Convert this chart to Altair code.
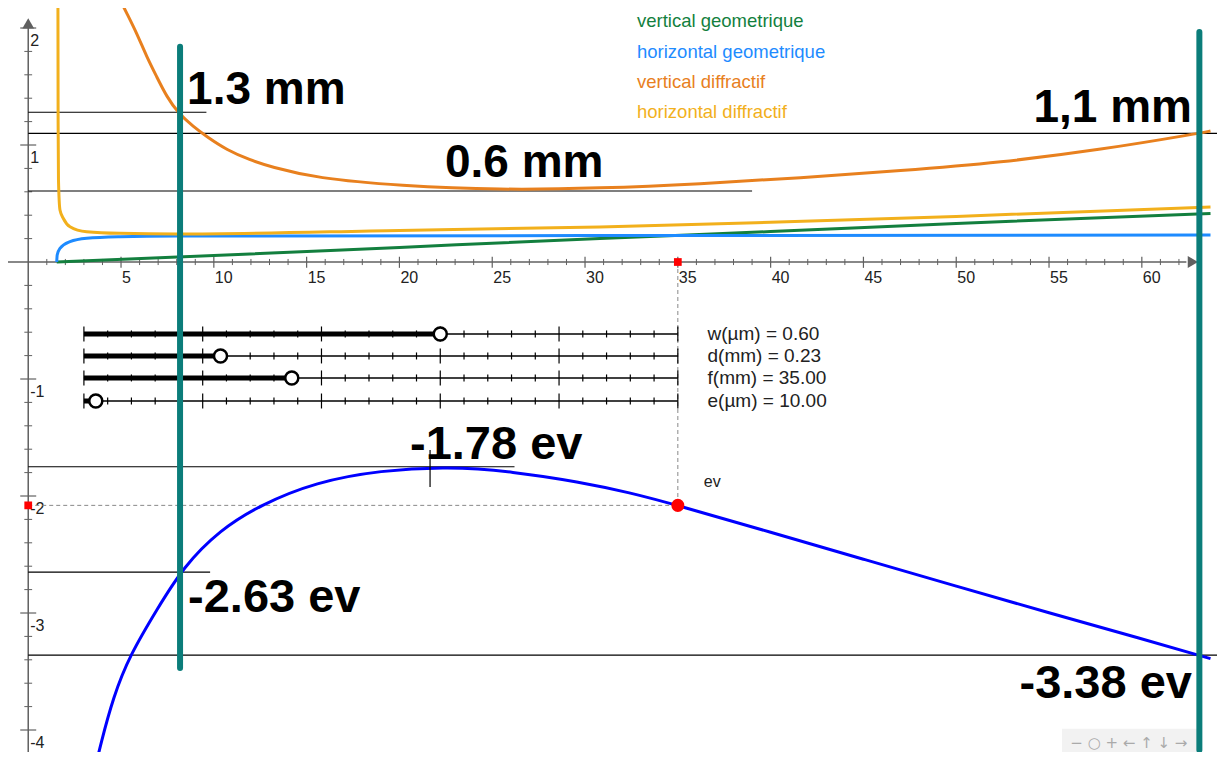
import altair as alt
import pandas as pd

# ---------------- data ----------------
# curve samples (x, y)
vgeo_x = [1.535, 10.0, 20.0, 30.8, 40.0, 50.0, 63.7]
vgeo_y = [0.0, 0.055, 0.125, 0.20, 0.26, 0.33, 0.415]

hgeo_x = [1.535, 1.56, 1.71, 2.25, 3.15, 4.95, 8.0, 30.0, 63.7]
hgeo_y = [0.0, 0.06, 0.117, 0.174, 0.203, 0.216, 0.222, 0.226, 0.23]

vdif_x = [4.95, 5.31, 5.85, 6.38, 6.92, 7.46, 8.09, 8.90, 9.62, 10.70, 11.95, 13.03, 15.54, 20.03, 25.4, 30.8, 36.2, 41.6, 47.0, 52.4, 57.8, 63.1, 63.7]
vdif_y = [2.24, 2.126, 1.955, 1.755, 1.584, 1.413, 1.271, 1.156, 1.071, 0.957, 0.872, 0.815, 0.715, 0.652, 0.615, 0.63, 0.667, 0.72, 0.78, 0.85, 0.96, 1.10, 1.12]

hdif_x = [1.60, 1.61, 1.63, 1.71, 1.90, 2.25, 3.15, 4.95, 8.0, 20.0, 30.8, 40.0, 50.0, 63.7]
hdif_y = [2.24, 1.20, 0.70, 0.444, 0.37, 0.302, 0.259, 0.245, 0.24, 0.27, 0.30, 0.34, 0.39, 0.47]

ev_x = [3.71, 3.87, 4.585, 5.48, 6.92, 8.36, 10.33, 12.49, 15.5, 19.0, 22.6, 26.1, 29.7, 32.4, 35.0, 40.0, 45.0, 50.0, 55.0, 60.0, 63.7]
ev_y = [-4.256, -4.143, -3.715, -3.359, -2.974, -2.604, -2.29, -2.077, -1.88, -1.78, -1.75, -1.79, -1.88, -1.97, -2.08, -2.31, -2.54, -2.77, -3.00, -3.22, -3.39]

series_names = ["vertical geometrique", "horizontal geometrique", "vertical diffractif", "horizontal diffractif"]
series_colors = ["#137F3E", "#1E8BFF", "#E8801E", "#F2B01C"]

# guide lines (value, x end)
guide_vals = [1.28, 1.10, 0.607, -1.75, -2.65, -3.36]
guide_ends = [9.6, 64.05, 39.0, 26.2, 9.8, 64.05]

# big annotation labels
big_text = ["1.3 mm", "0.6 mm", "1,1 mm", "-1.78 ev", "-2.63 ev", "-3.38 ev"]
big_x = [8.56, 22.45, 62.7, 20.57, 8.61, 62.7]
big_y = [1.47, 0.846, 1.316, -1.564, -2.87, -3.607]
big_align = ["left", "left", "right", "left", "left", "right"]
big_size = [46, 46, 46, 47, 47, 47]

# vertical teal markers (x, y from, y to)
teal_x = [8.18, 63.1]
teal_y1 = [1.84, 1.966]
teal_y2 = [-3.47, -4.17]

# sliders
slider_names = ["w(µm)", "d(mm)", "f(mm)", "e(µm)"]
slider_values = [0.60, 0.23, 35.00, 10.00]
slider_min = [0, 0, 0, 0]
slider_max = [1, 1, 100, 500]

# point ev
ev_point_x = 35.0
ev_point_y = -2.08
peak_x = 21.65

# axis ticks
x_major = [5, 10, 15, 20, 25, 30, 35, 40, 45, 50, 55, 60]
y_major = [-4, -3, -2, -1, 1, 2]

# ---------------- layout ----------------
X_MIN, X_MAX = -1.09, 64.05
Y_MIN, Y_MAX = -4.188, 2.171
W, H = 1209, 744
SL_X0, SL_X1 = 3.0, 35.0
SL_ROWS = [-0.615, -0.803, -0.991, -1.188]
FONT = "Liberation Sans"

xs = alt.Scale(domain=[X_MIN, X_MAX], nice=False, zero=False)
ys = alt.Scale(domain=[Y_MIN, Y_MAX], nice=False, zero=False)


def X(f="x"):
    return alt.X(f"{f}:Q", scale=xs, axis=None)


def Y(f="y"):
    return alt.Y(f"{f}:Q", scale=ys, axis=None)


layers = []

# ---------- axes ----------
axis_col = "#606060"
layers.append(alt.Chart(pd.DataFrame({"x": [X_MIN], "x2": [62.4], "y": [0]})).mark_rule(
    color=axis_col, strokeWidth=1.5).encode(x=X(), x2="x2:Q", y=Y()))
layers.append(alt.Chart(pd.DataFrame({"x": [0], "y": [Y_MIN], "y2": [2.0]})).mark_rule(
    color=axis_col, strokeWidth=1.5).encode(x=X(), y=Y(), y2="y2:Q"))
layers.append(alt.Chart(pd.DataFrame({"x": [62.75], "y": [0]})).mark_point(
    shape="triangle-right", filled=True, color=axis_col, size=140, opacity=1).encode(x=X(), y=Y()))
layers.append(alt.Chart(pd.DataFrame({"x": [0], "y": [2.04]})).mark_point(
    shape="triangle-up", filled=True, color=axis_col, size=140, opacity=1).encode(x=X(), y=Y()))

x_minor = [v for v in range(1, 63) if v % 5 != 0]
layers.append(alt.Chart(pd.DataFrame({"x": x_minor, "y": -0.026, "y2": 0.026})).mark_rule(
    color=axis_col, strokeWidth=1).encode(x=X(), y=Y(), y2="y2:Q"))
layers.append(alt.Chart(pd.DataFrame({"x": x_major, "y": -0.05, "y2": 0.045})).mark_rule(
    color=axis_col, strokeWidth=1.2).encode(x=X(), y=Y(), y2="y2:Q"))
y_minor = [round(-4.2 + 0.2 * i, 2) for i in range(33)]
y_minor = [v for v in y_minor if abs(v - round(v)) > 1e-6]
layers.append(alt.Chart(pd.DataFrame({"y": y_minor, "x": -0.21, "x2": 0.21})).mark_rule(
    color=axis_col, strokeWidth=1).encode(x=X(), x2="x2:Q", y=Y()))
layers.append(alt.Chart(pd.DataFrame({"y": y_major, "x": -0.43, "x2": 0.43})).mark_rule(
    color=axis_col, strokeWidth=1.2).encode(x=X(), x2="x2:Q", y=Y()))

layers.append(alt.Chart(pd.DataFrame({"x": x_major, "y": 0, "t": [str(v) for v in x_major]})).mark_text(
    align="left", baseline="middle", dx=1, dy=16, fontSize=16, font=FONT, color="#222").encode(
    x=X(), y=Y(), text="t:N"))
layers.append(alt.Chart(pd.DataFrame({"y": y_major, "x": 0, "t": [str(v) for v in y_major]})).mark_text(
    align="left", baseline="middle", dx=2, dy=13, fontSize=16, font=FONT, color="#222").encode(
    x=X(), y=Y(), text="t:N"))

# ---------- guide lines ----------
layers.append(alt.Chart(pd.DataFrame({"y": guide_vals, "x": 0.0, "x2": guide_ends})).mark_rule(
    color="#000", strokeWidth=1.2, clip=True).encode(x=X(), x2="x2:Q", y=Y()))

# ---------- dashed ev projections ----------
layers.append(alt.Chart(pd.DataFrame({"x": [ev_point_x], "y": [0.0], "y2": [ev_point_y]})).mark_rule(
    color="#888", strokeWidth=1, strokeDash=[4, 3]).encode(x=X(), y=Y(), y2="y2:Q"))
layers.append(alt.Chart(pd.DataFrame({"x": [0.0], "x2": [ev_point_x], "y": [ev_point_y]})).mark_rule(
    color="#888", strokeWidth=1, strokeDash=[4, 3]).encode(x=X(), x2="x2:Q", y=Y()))

# ---------- curves ----------
curve_sets = [(vgeo_x, vgeo_y, "monotone"), (hgeo_x, hgeo_y, "monotone"),
              (vdif_x, vdif_y, "basis"), (hdif_x, hdif_y, "monotone")]
for (cx, cy, interp), col in zip(curve_sets, series_colors):
    df = pd.DataFrame({"x": cx, "y": cy, "o": list(range(len(cx)))})
    layers.append(alt.Chart(df).mark_line(color=col, strokeWidth=3, interpolate=interp, clip=True).encode(
        x=X(), y=Y(), order="o:Q"))
df_ev = pd.DataFrame({"x": ev_x, "y": ev_y, "o": list(range(len(ev_x)))})
layers.append(alt.Chart(df_ev).mark_line(color="#0000FF", strokeWidth=3, interpolate="basis", clip=True).encode(
    x=X(), y=Y(), order="o:Q"))

# peak marker
layers.append(alt.Chart(pd.DataFrame({"x": [peak_x], "y": [-1.607], "y2": [-1.923]})).mark_rule(
    color="#000", strokeWidth=1.2).encode(x=X(), y=Y(), y2="y2:Q"))

# ---------- sliders ----------
rows = []
ticks = []
for name, val, lo, hi, ry in zip(slider_names, slider_values, slider_min, slider_max, SL_ROWS):
    frac = (val - lo) / (hi - lo)
    kx = SL_X0 + frac * (SL_X1 - SL_X0)
    rows.append({"x": SL_X0, "x2": SL_X1, "kx": kx, "y": ry, "label": f"{name} = {val:.2f}"})
    for i in range(26):
        tx = SL_X0 + i * (SL_X1 - SL_X0) / 25
        big = (i % 5 == 0)
        h = 0.064 if big else 0.03
        ticks.append({"x": tx, "y": ry - h, "y2": ry + h})
sdf = pd.DataFrame(rows)
tdf = pd.DataFrame(ticks)
layers.append(alt.Chart(sdf).mark_rule(color="#000", strokeWidth=1.5).encode(x=X(), x2="x2:Q", y=Y()))
layers.append(alt.Chart(tdf).mark_rule(color="#000", strokeWidth=1.2).encode(x=X(), y=Y(), y2="y2:Q"))
layers.append(alt.Chart(sdf).mark_rule(color="#000", strokeWidth=5).encode(x=X(), x2="kx:Q", y=Y()))
layers.append(alt.Chart(sdf).mark_point(shape="circle", filled=True, fill="white", stroke="#000",
                                        strokeWidth=2.5, size=170, opacity=1).encode(x=X("kx"), y=Y()))
layers.append(alt.Chart(sdf.assign(lx=36.6)).mark_text(align="left", baseline="middle", fontSize=19,
                                                      font=FONT, color="#222").encode(
    x=X("lx"), y=Y(), text="label:N"))

# ---------- ev point ----------
layers.append(alt.Chart(pd.DataFrame({"x": [ev_point_x, 0.0], "y": [0.0, ev_point_y]})).mark_square(
    color="#FF0000", size=60, opacity=1).encode(x=X(), y=Y()))
layers.append(alt.Chart(pd.DataFrame({"x": [ev_point_x], "y": [ev_point_y]})).mark_circle(
    color="#FF0000", size=170, opacity=1).encode(x=X(), y=Y()))
layers.append(alt.Chart(pd.DataFrame({"x": [36.4], "y": [-1.88], "t": ["ev"]})).mark_text(
    align="left", baseline="middle", fontSize=16, font=FONT, color="#222").encode(x=X(), y=Y(), text="t:N"))

# ---------- legend ----------
leg = pd.DataFrame({"x": 32.8, "y": [2.06, 1.795, 1.539, 1.283], "t": series_names, "c": series_colors})
layers.append(alt.Chart(leg).mark_text(align="left", baseline="middle", fontSize=18.5, font=FONT).encode(
    x=X(), y=Y(), text="t:N", color=alt.Color("c:N", scale=None)))

# ---------- nav bar ----------
layers.append(alt.Chart(pd.DataFrame({"x": [55.7], "x2": [63.2], "y": [-3.99], "y2": [-4.30]})).mark_rect(
    color="#F2F2F2", clip=True).encode(x=X(), x2="x2:Q", y=Y(), y2="y2:Q"))
layers.append(alt.Chart(pd.DataFrame({"x": [59.3], "y": [-4.11], "t": ["− ○ + ← ↑ ↓ →"]})).mark_text(
    align="center", baseline="middle", fontSize=15, font="DejaVu Sans", color="#AAAAAA").encode(
    x=X(), y=Y(), text="t:N"))

# ---------- teal markers ----------
layers.append(alt.Chart(pd.DataFrame({"x": teal_x, "y": teal_y1, "y2": teal_y2})).mark_rule(
    color="#0B7D7A", strokeWidth=6, strokeCap="round").encode(x=X(), y=Y(), y2="y2:Q"))

# ---------- big labels ----------
for t, bx, by, al, fs in zip(big_text, big_x, big_y, big_align, big_size):
    layers.append(alt.Chart(pd.DataFrame({"x": [bx], "y": [by], "t": [t]})).mark_text(
        align=al, baseline="middle", fontSize=fs, fontWeight="bold", font=FONT, color="#000").encode(
        x=X(), y=Y(), text="t:N"))

chart = alt.layer(*layers).properties(
    width=W, height=H, padding=0, autosize=alt.AutoSizeParams(type="none"), background="white"
).configure_view(stroke=None)

chart.save("out.html", embed_options={"renderer": "svg", "actions": False})
